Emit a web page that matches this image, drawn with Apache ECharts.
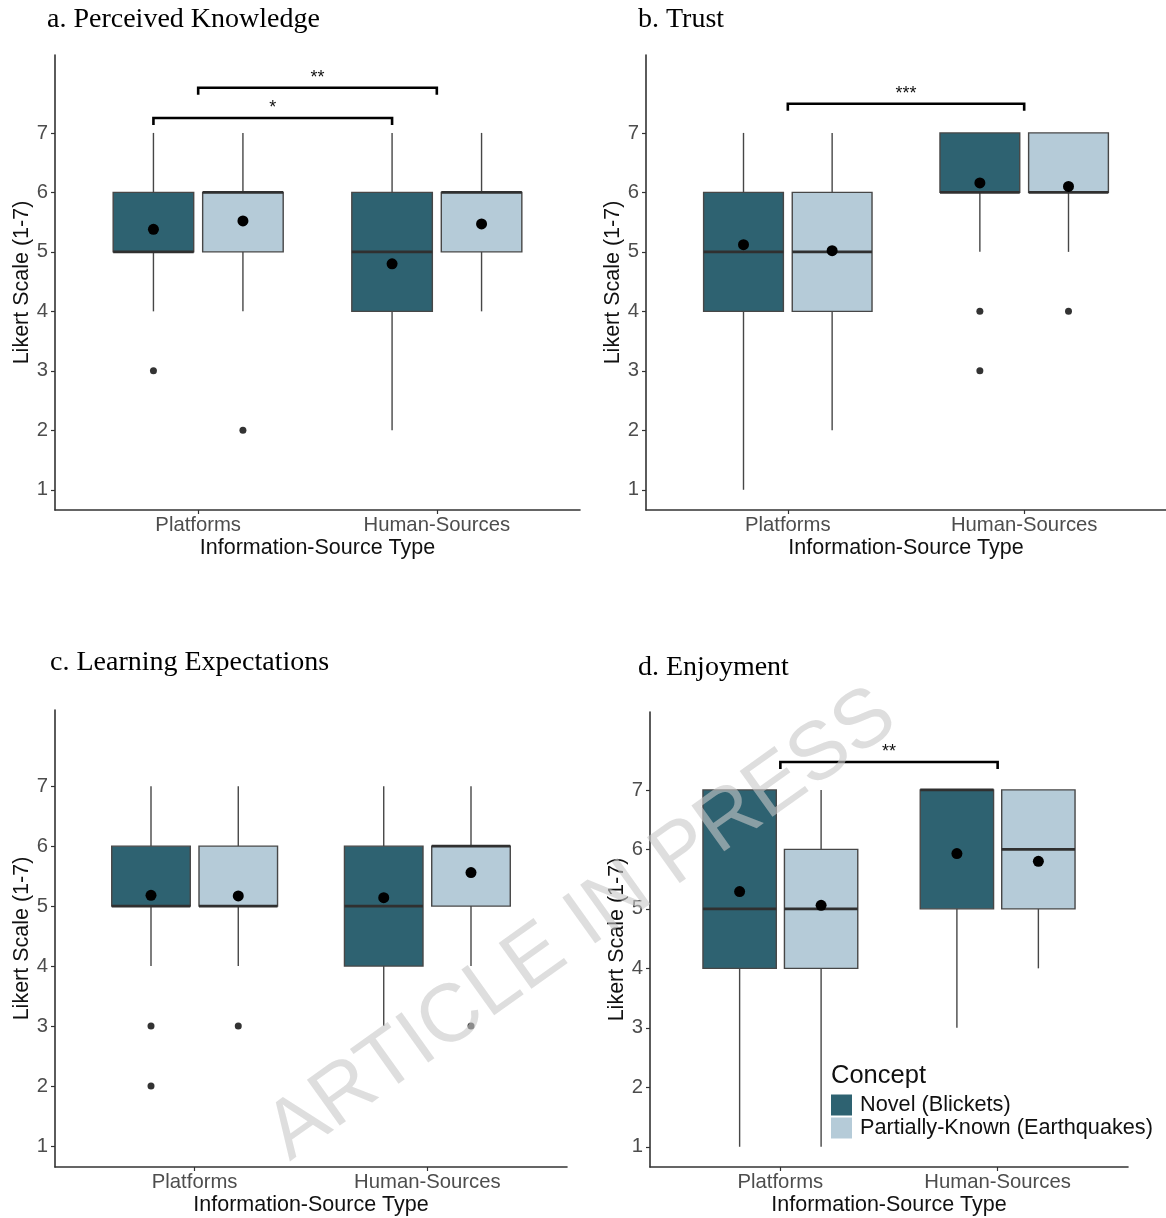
<!DOCTYPE html>
<html>
<head>
<meta charset="utf-8">
<script src="https://cdn.jsdelivr.net/npm/echarts@6/dist/echarts.min.js"></script>
<style>
  html, body { margin: 0; padding: 0; background: #ffffff; }
  #chart { width: 1166px; height: 1218px; }
</style>
</head>
<body>
<div id="chart"></div>
<script>
// ---- data -------------------------------------------------------------
const categories = ['Platforms', 'Human-Sources'];
const concepts = ['Novel (Blickets)', 'Partially-Known (Earthquakes)'];
const yTicks = [1, 2, 3, 4, 5, 6, 7];

// box summaries per category: [lower whisker, Q1, median, Q3, upper whisker]
const knowledgeNovel = [[4, 5, 5, 6, 7], [2, 4, 5, 6, 7]];
const knowledgePartial = [[4, 5, 6, 6, 7], [4, 5, 6, 6, 7]];
const knowledgeNovelMean = [5.38, 4.80];
const knowledgePartialMean = [5.52, 5.47];
const knowledgeNovelOutliers = [[3], []];
const knowledgePartialOutliers = [[2], []];

const trustNovel = [[1, 4, 5, 6, 7], [5, 6, 6, 7, 7]];
const trustPartial = [[2, 4, 5, 6, 7], [5, 6, 6, 7, 7]];
const trustNovelMean = [5.12, 6.16];
const trustPartialMean = [5.02, 6.10];
const trustNovelOutliers = [[], [4, 3]];
const trustPartialOutliers = [[], [4]];

const learningNovel = [[4, 5, 5, 6, 7], [3, 4, 5, 6, 7]];
const learningPartial = [[4, 5, 5, 6, 7], [4, 5, 6, 6, 7]];
const learningNovelMean = [5.18, 5.14];
const learningPartialMean = [5.17, 5.56];
const learningNovelOutliers = [[3, 2], []];
const learningPartialOutliers = [[3], [3]];

const enjoymentNovel = [[1, 4, 5, 7, 7], [3, 5, 7, 7, 7]];
const enjoymentPartial = [[1, 4, 5, 6, 7], [4, 5, 6, 7, 7]];
const enjoymentNovelMean = [5.29, 5.93];
const enjoymentPartialMean = [5.06, 5.80];
const enjoymentNovelOutliers = [[], []];
const enjoymentPartialOutliers = [[], []];

// significance brackets: [from x, to x, height, label]
const knowledgeBrackets = [[0.8125, 1.8125, 7.25, '*'], [1, 2, 7.76, '**']];
const trustBrackets = [[1, 2, 7.49, '***']];
const learningBrackets = [];
const enjoymentBrackets = [[1, 2, 7.47, '**']];

// ---- styling & layout -------------------------------------------------
const NOVEL_COLOR = '#2e6271';
const PARTIAL_COLOR = '#b5cbd8';
const LINE_COLOR = '#474747';
const MEDIAN_COLOR = '#303030';
const DODGE = 0.1875;
const BOX_W = 0.3375;
const SANS = '"Liberation Sans", Arial, sans-serif';
const SERIF = '"Liberation Serif", "Times New Roman", serif';

const panels = [
  { title: 'a. Perceived Knowledge', titlePos: [47, 20],
    grid: { left: 55, top: 55, width: 525, height: 455 }, yRange: [0.66, 8.31],
    novel: knowledgeNovel, partial: knowledgePartial,
    novelMean: knowledgeNovelMean, partialMean: knowledgePartialMean,
    novelOut: knowledgeNovelOutliers, partialOut: knowledgePartialOutliers,
    brackets: knowledgeBrackets },
  { title: 'b. Trust', titlePos: [638, 20],
    grid: { left: 646, top: 55, width: 524, height: 455 }, yRange: [0.66, 8.31],
    novel: trustNovel, partial: trustPartial,
    novelMean: trustNovelMean, partialMean: trustPartialMean,
    novelOut: trustNovelOutliers, partialOut: trustPartialOutliers,
    brackets: trustBrackets },
  { title: 'c. Learning Expectations', titlePos: [50, 663],
    grid: { left: 55, top: 710, width: 512, height: 457 }, yRange: [0.65, 8.27],
    novel: learningNovel, partial: learningPartial,
    novelMean: learningNovelMean, partialMean: learningPartialMean,
    novelOut: learningNovelOutliers, partialOut: learningPartialOutliers,
    brackets: learningBrackets },
  { title: 'd. Enjoyment', titlePos: [638, 668],
    grid: { left: 650, top: 712, width: 478, height: 455 }, yRange: [0.66, 8.31],
    novel: enjoymentNovel, partial: enjoymentPartial,
    novelMean: enjoymentNovelMean, partialMean: enjoymentPartialMean,
    novelOut: enjoymentNovelOutliers, partialOut: enjoymentPartialOutliers,
    brackets: enjoymentBrackets }
];

// ---- renderers --------------------------------------------------------
function boxRenderer(fill) {
  return function (params, api) {
    const x = api.value(0);
    const pLo = api.coord([x, api.value(1)]);
    const pQ1 = api.coord([x, api.value(2)]);
    const pMed = api.coord([x, api.value(3)]);
    const pQ3 = api.coord([x, api.value(4)]);
    const pHi = api.coord([x, api.value(5)]);
    const w = api.size([BOX_W, 0])[0];
    const cx = pLo[0];
    const children = [];
    if (pHi[1] < pQ3[1]) {
      children.push({ type: 'line', shape: { x1: cx, y1: pHi[1], x2: cx, y2: pQ3[1] },
        style: { stroke: LINE_COLOR, lineWidth: 1.4 } });
    }
    if (pLo[1] > pQ1[1]) {
      children.push({ type: 'line', shape: { x1: cx, y1: pQ1[1], x2: cx, y2: pLo[1] },
        style: { stroke: LINE_COLOR, lineWidth: 1.4 } });
    }
    children.push({ type: 'rect',
      shape: { x: cx - w / 2, y: pQ3[1], width: w, height: pQ1[1] - pQ3[1] },
      style: { fill: fill, stroke: LINE_COLOR, lineWidth: 1.4 } });
    children.push({ type: 'line',
      shape: { x1: cx - w / 2, y1: pMed[1], x2: cx + w / 2, y2: pMed[1] },
      style: { stroke: MEDIAN_COLOR, lineWidth: 2.8 } });
    return { type: 'group', children: children };
  };
}

function bracketRenderer(list) {
  return function (params, api) {
    const item = list[params.dataIndex];
    const p1 = api.coord([api.value(0), api.value(2)]);
    const p2 = api.coord([api.value(1), api.value(2)]);
    const leg = 7;
    return {
      type: 'group',
      children: [
        { type: 'polyline',
          shape: { points: [[p1[0], p1[1] + leg], [p1[0], p1[1]], [p2[0], p2[1]], [p2[0], p2[1] + leg]] },
          style: { stroke: '#000', lineWidth: 2.6, fill: null } },
        { type: 'text',
          style: { x: (p1[0] + p2[0]) / 2, y: p1[1] - 10, text: item[3],
            font: '18px ' + SANS, fill: '#111', align: 'center', verticalAlign: 'middle' } }
      ]
    };
  };
}

// ---- build option -----------------------------------------------------
const grids = [], xAxes = [], yAxes = [], series = [], graphics = [];

panels.forEach(function (p, k) {
  grids.push(Object.assign({ containLabel: false }, p.grid));

  xAxes.push({
    type: 'value', gridIndex: k, min: 0.4, max: 2.6, interval: 0.2,
    name: 'Information-Source Type', nameLocation: 'middle', nameGap: 27,
    nameTextStyle: { fontFamily: SANS, fontSize: 21.5, color: '#111' },
    axisLine: { show: true, lineStyle: { color: '#333', width: 1.6 } },
    axisTick: { show: true, length: 4, customValues: [1, 2], lineStyle: { color: '#333', width: 1.2 } },
    axisLabel: { customValues: [1, 2], margin: 5, fontFamily: SANS, fontSize: 20.3, color: '#4d4d4d',
      formatter: function (v) { return categories[Math.round(v) - 1] || ''; } },
    splitLine: { show: false }
  });

  yAxes.push({
    type: 'value', gridIndex: k, min: p.yRange[0], max: p.yRange[1],
    name: 'Likert Scale (1-7)', nameLocation: 'middle', nameGap: 22, nameRotate: 90,
    nameTextStyle: { fontFamily: SANS, fontSize: 21.5, color: '#111' },
    axisLine: { show: true, lineStyle: { color: '#333', width: 1.6 } },
    axisTick: { show: true, length: 4, customValues: yTicks, lineStyle: { color: '#333', width: 1.2 } },
    axisLabel: { customValues: yTicks, margin: 7, fontFamily: SANS, fontSize: 20.3, color: '#4d4d4d' },
    splitLine: { show: false }
  });

  const groups = [
    { name: concepts[0], boxes: p.novel, means: p.novelMean, outs: p.novelOut, color: NOVEL_COLOR, shift: -DODGE },
    { name: concepts[1], boxes: p.partial, means: p.partialMean, outs: p.partialOut, color: PARTIAL_COLOR, shift: DODGE }
  ];

  groups.forEach(function (g) {
    const boxData = g.boxes.map(function (b, i) { return [i + 1 + g.shift].concat(b); });
    series.push({
      type: 'custom', name: g.name, xAxisIndex: k, yAxisIndex: k,
      itemStyle: { color: g.color },
      encode: { x: 0, y: [1, 2, 3, 4, 5] },
      renderItem: boxRenderer(g.color),
      data: boxData, silent: true, z: 2
    });
    const outData = [];
    g.outs.forEach(function (vals, i) {
      vals.forEach(function (v) { outData.push([i + 1 + g.shift, v]); });
    });
    series.push({
      type: 'scatter', name: 'outliers', xAxisIndex: k, yAxisIndex: k,
      symbol: 'circle', symbolSize: 7, itemStyle: { color: '#333', opacity: 1 },
      data: outData, silent: true, z: 3
    });
    series.push({
      type: 'scatter', name: 'means', xAxisIndex: k, yAxisIndex: k,
      symbol: 'circle', symbolSize: 11, itemStyle: { color: '#000', opacity: 1 },
      data: g.means.map(function (m, i) { return [i + 1 + g.shift, m]; }),
      silent: true, z: 4
    });
  });

  if (p.brackets.length) {
    series.push({
      type: 'custom', name: 'brackets', xAxisIndex: k, yAxisIndex: k,
      encode: { x: [0, 1], y: 2 },
      renderItem: bracketRenderer(p.brackets),
      data: p.brackets.map(function (b) { return [b[0], b[1], b[2]]; }),
      silent: true, z: 5
    });
  }

  graphics.push({
    type: 'text', x: p.titlePos[0], y: p.titlePos[1],
    style: { text: p.title, font: '28px ' + SERIF, fill: '#000', align: 'left', verticalAlign: 'middle' }
  });
});

// legend heading
graphics.push({
  type: 'text', x: 831, y: 1076,
  style: { text: 'Concept', font: '25.5px ' + SANS, fill: '#111', align: 'left', verticalAlign: 'middle' }
});

// watermark across the lower half
graphics.push({
  type: 'text', x: 582, y: 925, rotation: 0.62, z: 100,
  style: { text: 'ARTICLE IN PRESS', font: '82px ' + SANS, fill: 'rgba(200,200,200,0.6)',
    align: 'center', verticalAlign: 'middle' }
});

const option = {
  backgroundColor: '#ffffff',
  animation: false,
  grid: grids,
  xAxis: xAxes,
  yAxis: yAxes,
  legend: {
    data: concepts, orient: 'vertical', left: 831, top: 1094, padding: 0,
    itemWidth: 21, itemHeight: 21, itemGap: 1, icon: 'rect', selectedMode: false,
    textStyle: { fontFamily: SANS, fontSize: 21.7, color: '#111', padding: [0, 0, 0, 3] }
  },
  graphic: graphics,
  series: series
};

const chart = echarts.init(document.getElementById('chart'), null, { renderer: 'canvas' });
chart.setOption(option);
</script>
</body>
</html>
